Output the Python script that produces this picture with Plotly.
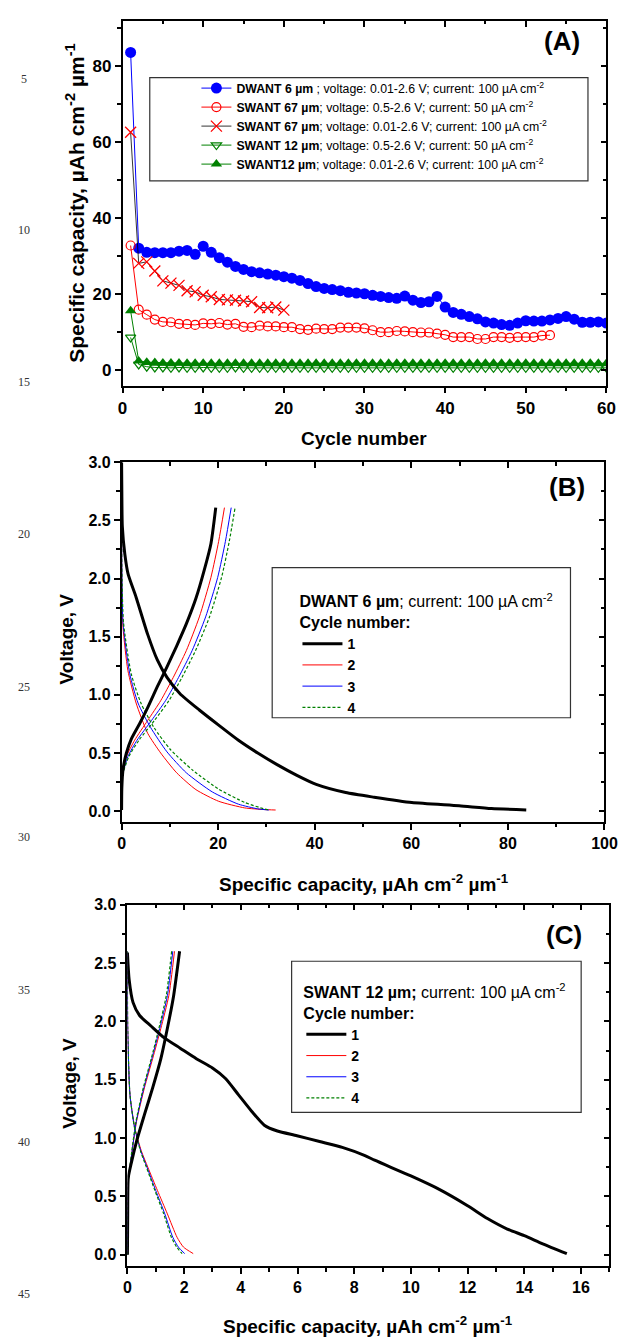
import plotly.graph_objects as go

W, H = 634, 1337
FONT = "Arial, Liberation Sans, sans-serif"

# ---------------- Panel A data ----------------
cycles_dwant6 = list(range(1, 61))
dwant6_cap = [83.5, 32.0, 30.9, 30.8, 30.8, 30.8, 31.2, 31.4, 30.4, 32.5,
              30.9, 29.5, 28.3, 27.2, 26.4, 25.8, 25.5, 25.2, 24.9, 24.5,
              24.1, 23.5, 22.7, 21.9, 21.4, 21.1, 20.8, 20.4, 20.2, 20.0,
              19.6, 19.3, 19.0, 18.8, 19.4, 18.3, 17.7, 17.9, 19.3, 16.5,
              15.1, 14.6, 14.0, 13.4, 12.6, 12.3, 11.9, 11.7, 12.3, 12.9,
              12.8, 12.8, 13.1, 13.5, 14.0, 13.3, 12.5, 12.5, 12.6, 12.3]

cycles_swant67_low = list(range(1, 54))
swant67_low_cap = [32.7, 15.8, 14.5, 13.2, 12.6, 12.5, 12.1, 12.0, 11.8, 12.2,
                   12.1, 12.3, 11.9, 12.1, 11.3, 11.2, 11.6, 11.4, 11.4, 11.2,
                   11.2, 10.7, 10.5, 10.8, 10.7, 10.7, 11.1, 11.1, 11.1, 10.9,
                   10.4, 9.9, 9.9, 10.2, 10.1, 9.9, 9.8, 9.8, 9.5, 9.2,
                   8.6, 8.6, 8.6, 8.1, 8.1, 8.6, 8.6, 8.4, 8.6, 8.6,
                   8.6, 9.0, 9.1]

cycles_swant67_high = list(range(1, 21))
swant67_high_cap = [62.5, 28.0, 28.4, 26.0, 23.4, 22.8, 22.2, 20.8, 20.5, 19.6,
                    19.2, 18.5, 18.4, 18.3, 18.1, 17.9, 16.4, 16.3, 16.5, 15.7]

cycles_swant12_low = list(range(1, 61))
swant12_low_cap = [8.5, 1.4, 0.8, 0.6, 0.6, 0.5, 0.6, 0.5, 0.5, 0.6,
                   0.5, 0.5, 0.5, 0.6, 0.5, 0.5, 0.5, 0.5, 0.5, 0.5,
                   0.5, 0.5, 0.5, 0.5, 0.5, 0.5, 0.5, 0.5, 0.5, 0.5,
                   0.5, 0.5, 0.5, 0.5, 0.5, 0.5, 0.5, 0.5, 0.5, 0.5,
                   0.5, 0.5, 0.5, 0.5, 0.5, 0.5, 0.5, 0.5, 0.5, 0.5,
                   0.5, 0.5, 0.5, 0.5, 0.5, 0.5, 0.5, 0.5, 0.5, 0.5]

cycles_swant12_high = list(range(1, 61))
swant12_high_cap = [15.5, 2.3, 2.0, 1.9, 1.8, 1.8, 1.8, 1.7, 1.7, 1.7,
                    1.7, 1.7, 1.7, 1.7, 1.7, 1.7, 1.7, 1.7, 1.7, 1.7,
                    1.7, 1.7, 1.7, 1.7, 1.7, 1.7, 1.7, 1.7, 1.7, 1.7,
                    1.7, 1.7, 1.7, 1.7, 1.7, 1.7, 1.7, 1.7, 1.7, 1.7,
                    1.7, 1.7, 1.7, 1.7, 1.7, 1.7, 1.7, 1.7, 1.7, 1.7,
                    1.7, 1.7, 1.7, 1.7, 1.7, 1.7, 1.7, 1.7, 1.7, 1.7]

legend_A = [
    "<b>DWANT 6 µm</b> ; voltage: 0.01-2.6 V; current: 100 µA cm<sup>-2</sup>",
    "<b>SWANT 67 µm</b>; voltage: 0.5-2.6 V; current: 50 µA cm<sup>-2</sup>",
    "<b>SWANT 67 µm</b>; voltage: 0.01-2.6 V; current: 100 µA cm<sup>-2</sup>",
    "<b>SWANT 12 µm</b>; voltage: 0.5-2.6 V; current: 50 µA cm<sup>-2</sup>",
    "<b>SWANT12 µm</b>; voltage: 0.01-2.6 V; current: 100 µA cm<sup>-2</sup>",
]

# ---------------- Panel B data (DWANT 6 um) ----------------
B1_dis_x = [0, 0.05, 0.15, 0.67, 1.34, 3.0, 5.4, 7.4, 9.4, 12.1, 16.1, 20.1, 24.2, 28.2,
            32.2, 36.2, 40.3, 46.4, 52.3, 60.1, 69.9, 76.6, 83.8]
B1_dis_v = [3.0, 2.75, 2.45, 2.21, 2.04, 1.84, 1.52, 1.30, 1.15, 1.01, 0.87, 0.74, 0.61, 0.50,
            0.40, 0.31, 0.23, 0.16, 0.12, 0.074, 0.046, 0.023, 0.01]
B1_chg_x = [0, 0.05, 0.3, 1.0, 2.0, 3.7, 5.4, 7.4, 9.4, 11.4, 13.4, 15.4, 17.1, 18.5, 19.5]
B1_chg_v = [0.01, 0.2, 0.36, 0.50, 0.62, 0.75, 0.89, 1.07, 1.24, 1.42, 1.61, 1.83, 2.07, 2.30, 2.61]

B2_dis_x = [0, 0.05, 0.3, 1.3, 3.0, 5.4, 8.1, 11.4, 15.4, 20.1, 25.5, 29.5, 31.9]
B2_dis_v = [2.6, 2.0, 1.58, 1.21, 0.93, 0.67, 0.50, 0.33, 0.185, 0.085, 0.028, 0.014, 0.01]
B2_chg_x = [0, 0.05, 0.2, 1.0, 2.7, 5.4, 8.1, 10.7, 13.4, 16.1, 18.5, 20.1, 21.3]
B2_chg_v = [0.01, 0.2, 0.33, 0.47, 0.61, 0.78, 0.95, 1.15, 1.38, 1.67, 2.01, 2.32, 2.61]

B3_dis_x = [0, 0.05, 0.3, 1.7, 3.4, 6.0, 9.4, 13.4, 18.8, 24.2, 28.2, 30.5]
B3_dis_v = [2.6, 2.1, 1.62, 1.18, 0.93, 0.72, 0.51, 0.33, 0.165, 0.06, 0.02, 0.01]
B3_chg_x = [0, 0.05, 0.2, 1.3, 3.2, 6.2, 9.1, 11.8, 14.6, 17.4, 19.9, 21.5, 22.7]
B3_chg_v = [0.01, 0.2, 0.31, 0.47, 0.61, 0.78, 0.95, 1.15, 1.38, 1.67, 2.01, 2.32, 2.61]

B4_dis_x = [0, 0.05, 0.4, 2.0, 4.0, 6.7, 10.1, 14.8, 20.1, 25.5, 29.5, 30.6]
B4_dis_v = [2.6, 2.1, 1.62, 1.18, 0.93, 0.72, 0.53, 0.35, 0.19, 0.075, 0.02, 0.01]
B4_chg_x = [0, 0.05, 0.2, 1.5, 3.6, 6.8, 9.8, 12.5, 15.3, 18.2, 20.7, 22.3, 23.5]
B4_chg_v = [0.01, 0.2, 0.31, 0.47, 0.61, 0.78, 0.95, 1.15, 1.38, 1.67, 2.01, 2.32, 2.61]

# ---------------- Panel C data (SWANT 12 um) ----------------
C1_dis_x = [0, 0.06, 0.2, 0.43, 0.83, 1.29, 1.86, 2.43, 3.0, 3.46, 3.92, 4.38, 4.83, 5.29,
            5.98, 6.78, 7.58, 8.38, 8.72, 10.0, 11.0, 12.0, 12.7, 13.4, 14.0, 14.65, 15.5]
C1_dis_v = [2.59, 2.36, 2.16, 2.05, 1.96, 1.86, 1.77, 1.68, 1.60, 1.51, 1.37, 1.23, 1.11, 1.06,
            1.02, 0.97, 0.92, 0.85, 0.81, 0.675, 0.56, 0.42, 0.31, 0.22, 0.164, 0.094, 0.01]
C1_chg_x = [0, 0.01, 0.03, 0.15, 0.32, 0.6, 0.89, 1.18, 1.41, 1.63, 1.84]
C1_chg_v = [0.0, 0.35, 0.66, 0.80, 0.97, 1.20, 1.43, 1.68, 1.94, 2.22, 2.60]

C2_dis_x = [0, 0.01, 0.09, 0.26, 0.49, 0.72, 1.06, 1.41, 1.75, 1.98, 2.32]
C2_dis_v = [2.6, 1.94, 1.37, 1.09, 0.89, 0.75, 0.55, 0.35, 0.15, 0.065, 0.01]
C2_chg_x = [0, 0.01, 0.03, 0.15, 0.32, 0.6, 0.89, 1.18, 1.46, 1.66]
C2_chg_v = [0.0, 0.35, 0.63, 0.86, 1.14, 1.43, 1.68, 1.94, 2.22, 2.60]

C3_dis_x = [0, 0.01, 0.09, 0.25, 0.47, 0.69, 1.0, 1.32, 1.6, 1.8, 2.02]
C3_dis_v = [2.6, 1.94, 1.37, 1.09, 0.89, 0.75, 0.55, 0.35, 0.15, 0.065, 0.01]
C3_chg_x = [0, 0.01, 0.03, 0.15, 0.31, 0.58, 0.86, 1.14, 1.41, 1.60]
C3_chg_v = [0.0, 0.35, 0.63, 0.86, 1.14, 1.43, 1.68, 1.94, 2.22, 2.60]

C4_dis_x = [0, 0.01, 0.09, 0.25, 0.46, 0.67, 0.97, 1.28, 1.55, 1.74, 1.93]
C4_dis_v = [2.6, 1.94, 1.37, 1.09, 0.89, 0.75, 0.55, 0.35, 0.15, 0.065, 0.01]
C4_chg_x = [0, 0.01, 0.03, 0.14, 0.30, 0.56, 0.84, 1.11, 1.37, 1.56]
C4_chg_v = [0.0, 0.35, 0.63, 0.86, 1.14, 1.43, 1.68, 1.94, 2.22, 2.60]

cycle_labels = ["1", "2", "3", "4"]

RED, BLUE, GREEN, BLACK = "#FF0000", "#0000FF", "#008000", "#000000"

fig = go.Figure()

# ----- Panel A traces -----
fig.add_trace(go.Scatter(x=cycles_dwant6, y=dwant6_cap, mode="lines+markers", name=legend_A[0],
                         line=dict(color=BLUE, width=1),
                         marker=dict(symbol="circle", size=11, color=BLUE),
                         xaxis="x", yaxis="y", legend="legend"))
fig.add_trace(go.Scatter(x=cycles_swant67_low, y=swant67_low_cap, mode="lines+markers", name=legend_A[1],
                         line=dict(color=RED, width=1),
                         marker=dict(symbol="circle-open", size=9, color=RED, line=dict(width=1.2)),
                         xaxis="x", yaxis="y", legend="legend"))
fig.add_trace(go.Scatter(x=cycles_swant67_high, y=swant67_high_cap, mode="lines+markers", name=legend_A[2],
                         line=dict(color=BLACK, width=0.8),
                         marker=dict(symbol="x-thin-open", size=11, color=RED, line=dict(width=1.3, color=RED)),
                         xaxis="x", yaxis="y", legend="legend"))
fig.add_trace(go.Scatter(x=cycles_swant12_low, y=swant12_low_cap, mode="lines+markers", name=legend_A[3],
                         line=dict(color=GREEN, width=1),
                         marker=dict(symbol="triangle-down-open", size=9, color=GREEN, line=dict(width=1.2)),
                         xaxis="x", yaxis="y", legend="legend"))
fig.add_trace(go.Scatter(x=cycles_swant12_high, y=swant12_high_cap, mode="lines+markers", name=legend_A[4],
                         line=dict(color=GREEN, width=1),
                         marker=dict(symbol="triangle-up", size=10, color=GREEN),
                         xaxis="x", yaxis="y", legend="legend"))

# ----- Panels B & C traces -----
styles = [dict(color=BLACK, width=3), dict(color=RED, width=1),
          dict(color=BLUE, width=1), dict(color=GREEN, width=1.2, dash="3px,2px")]

B_sets = [(B1_dis_x, B1_dis_v, B1_chg_x, B1_chg_v), (B2_dis_x, B2_dis_v, B2_chg_x, B2_chg_v),
          (B3_dis_x, B3_dis_v, B3_chg_x, B3_chg_v), (B4_dis_x, B4_dis_v, B4_chg_x, B4_chg_v)]
C_sets = [(C1_dis_x, C1_dis_v, C1_chg_x, C1_chg_v), (C2_dis_x, C2_dis_v, C2_chg_x, C2_chg_v),
          (C3_dis_x, C3_dis_v, C3_chg_x, C3_chg_v), (C4_dis_x, C4_dis_v, C4_chg_x, C4_chg_v)]

for sets, xa, ya, lg in [(B_sets, "x2", "y2", "legend2"), (C_sets, "x3", "y3", "legend3")]:
    for i in [1, 2, 3, 0]:
        dx, dv, cx, cv = sets[i]
        st = dict(styles[i])
        st["shape"] = "spline"
        st["smoothing"] = 0.6
        fig.add_trace(go.Scatter(x=list(dx) + [None] + list(cx), y=list(dv) + [None] + list(cv),
                                 mode="lines", name="<b>" + cycle_labels[i] + "</b>",
                                 line=st, xaxis=xa, yaxis=ya, legend=lg,
                                 legendrank=i + 1))

# dummy traces for mirror axes
for xa, ya in [("x4", "y4"), ("x5", "y5"), ("x6", "y6")]:
    fig.add_trace(go.Scatter(x=[None], y=[None], xaxis=xa, yaxis=ya, showlegend=False, hoverinfo="skip"))

def px_x(p):
    return p / W

def px_y(p):
    return 1 - p / H

tickfont = dict(family=FONT, size=17, color="black", weight="bold")
tickfont_bc = dict(family=FONT, size=16, color="black", weight="bold")

def base_axis(rng, dtick, minor_dtick, domain, anchor, tf, showlabels=True, side=None,
              overlaying=None, ticks="outside", fmt=None):
    d = dict(range=rng, dtick=dtick, tick0=0, domain=domain, anchor=anchor,
             showline=True, linecolor="black", linewidth=1.5,
             ticks=ticks, ticklen=6, tickwidth=1.5, tickcolor="black",
             minor=dict(dtick=minor_dtick, ticks=ticks, ticklen=3.5, tickwidth=1.5, tickcolor="black"),
             showgrid=False, zeroline=False, showticklabels=showlabels, tickfont=tf, fixedrange=True)
    if fmt:
        d["tickformat"] = fmt
    if side:
        d["side"] = side
    if overlaying:
        d["overlaying"] = overlaying
        d.pop("domain")
    return d

A_xdom = [px_x(121), px_x(619)]
A_ydom = [px_y(380), px_y(13)]
B_xdom = [px_x(120), px_x(617)]
B_ydom = [px_y(819), px_y(457)]
C_xdom = [px_x(126), px_x(622)]
C_ydom = [px_y(1266), px_y(902)]

A_xr, A_yr = [0, 60], [-4.2, 91.8]
B_xr, B_yr = [0, 100], [-0.094, 3.0]
C_xr, C_yr = [0, 17], [-0.1, 3.0]

fig.update_layout(
    xaxis=base_axis(A_xr, 10, 5, A_xdom, "y", tickfont),
    yaxis=base_axis(A_yr, 20, 10, A_ydom, "x", tickfont),
    xaxis2=base_axis(B_xr, 20, 10, B_xdom, "y2", tickfont_bc),
    yaxis2=base_axis(B_yr, 0.5, 0.25, B_ydom, "x2", tickfont_bc, fmt=".1f"),
    xaxis3=base_axis(C_xr, 2, 1, C_xdom, "y3", tickfont_bc),
    yaxis3=base_axis(C_yr, 0.5, 0.25, C_ydom, "x3", tickfont_bc, fmt=".1f"),
    xaxis4=base_axis(A_xr, 10, 5, None, "y", tickfont, False, "top", "x", "inside"),
    yaxis4=base_axis(A_yr, 20, 10, None, "x", tickfont, False, "right", "y", "inside"),
    xaxis5=base_axis(B_xr, 20, 10, None, "y2", tickfont, False, "top", "x2", "inside"),
    yaxis5=base_axis(B_yr, 0.5, 0.25, None, "x2", tickfont, False, "right", "y2", "inside"),
    xaxis6=base_axis(C_xr, 2, 1, None, "y3", tickfont, False, "top", "x3", "inside"),
    yaxis6=base_axis(C_yr, 0.5, 0.25, None, "x3", tickfont, False, "right", "y3", "inside"),
)

fig.update_layout(
    width=W, height=H, margin=dict(l=0, r=0, t=0, b=0),
    paper_bgcolor="white", plot_bgcolor="white",
    font=dict(family=FONT, color="black"),
    legend=dict(x=px_x(197), y=px_y(66), xanchor="left", yanchor="top",
                bgcolor="rgba(0,0,0,0)", borderwidth=0, itemwidth=30,
                font=dict(family=FONT, size=12.3, color="black"), tracegroupgap=0),
    legend2=dict(x=px_x(301), y=px_y(582), xanchor="left", yanchor="top",
                 bgcolor="rgba(0,0,0,0)", borderwidth=0, itemwidth=40,
                 title=dict(text="<b>DWANT 6 µm</b>; current: 100 µA cm<sup>-2</sup><br><b>Cycle number:</b>",
                            font=dict(family=FONT, size=16, color="black"), side="top"),
                 font=dict(family=FONT, size=14, color="black"), traceorder="normal"),
    legend3=dict(x=px_x(305), y=px_y(975), xanchor="left", yanchor="top",
                 bgcolor="rgba(0,0,0,0)", borderwidth=0, itemwidth=40,
                 title=dict(text="<b>SWANT 12 µm;</b> current: 100 µA cm<sup>-2</sup><br><b>Cycle number:</b>",
                            font=dict(family=FONT, size=16, color="black"), side="top"),
                 font=dict(family=FONT, size=14, color="black"), traceorder="normal"),
)

# legend frames
frames = [(149, 70, 600, 174), (275, 563, 582, 714), (295, 959, 593, 1111)]
for (x0, y0, x1, y1) in frames:
    fig.add_shape(type="rect", xref="paper", yref="paper",
                  x0=px_x(x0), x1=px_x(x1), y0=px_y(y1), y1=px_y(y0),
                  line=dict(color="#333333", width=1.2), fillcolor="rgba(0,0,0,0)", layer="above")

def ann(text, x, y, size, angle=0, family=FONT, color="black"):
    fig.add_annotation(text=text, x=px_x(x), y=px_y(y), xref="paper", yref="paper",
                       showarrow=False, textangle=angle, xanchor="center", yanchor="middle",
                       font=dict(family=family, size=size, color=color))

cap_title = "<b>Specific capacity, µAh cm<sup>-2</sup> µm<sup>-1</sup></b>"
ann(cap_title, 72, 196, 21, angle=-90)
ann("<b>Cycle number</b>", 370, 433, 19)
ann("<b>Voltage, V</b>", 63, 635, 19, angle=-90)
ann(cap_title, 369, 880, 19)
ann("<b>Voltage, V</b>", 66, 1082, 19, angle=-90)
ann(cap_title, 374, 1325, 19)

ann("<b>(A)</b>", 573, 33, 26)
ann("<b>(B)</b>", 578, 482, 26)
ann("<b>(C)</b>", 575, 933, 26)

# manuscript line numbers
line_numbers = ["5", "10", "15", "20", "25", "30", "35", "40", "45"]
line_number_y = [71, 223, 376, 529, 683, 834, 988, 1141, 1294]
for t, yy in zip(line_numbers, line_number_y):
    ann(t, 20, yy, 12, family="Liberation Serif, Times New Roman, serif", color="#333333")

fig.write_html("out.html")
